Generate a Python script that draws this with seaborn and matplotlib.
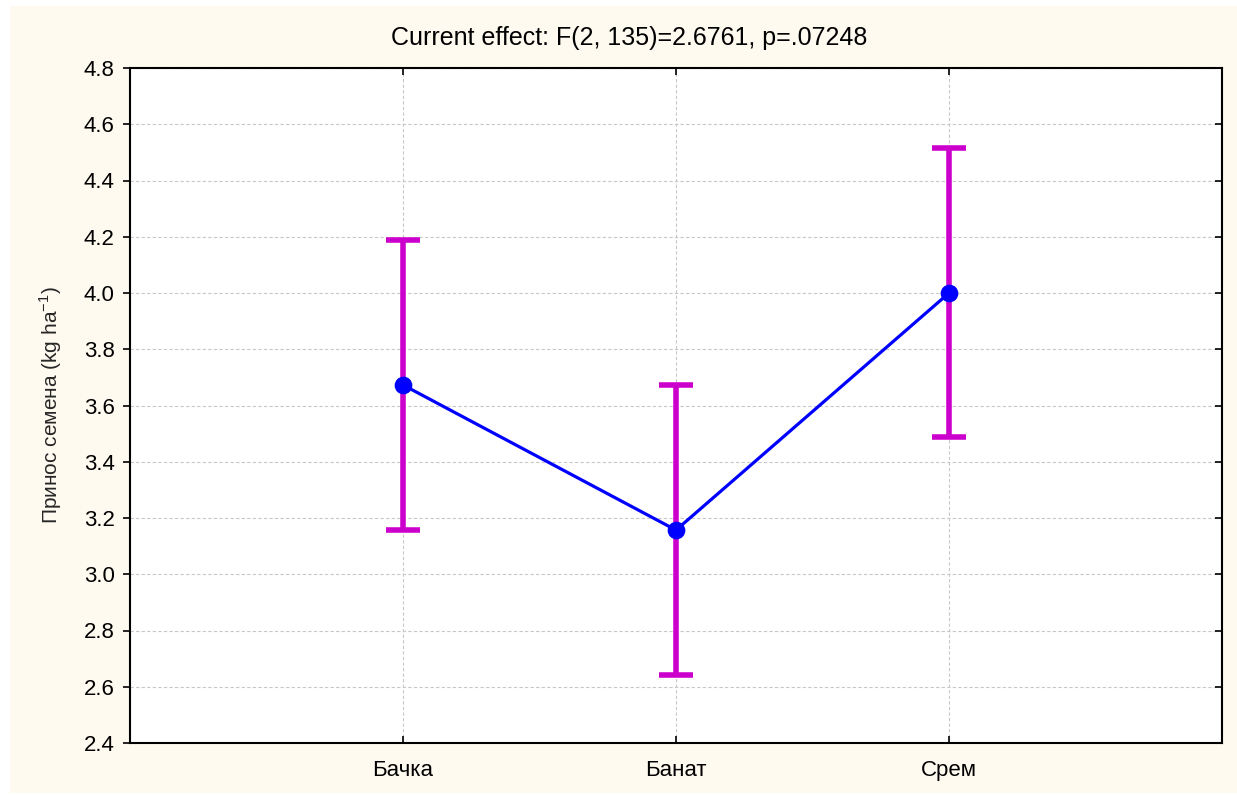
import matplotlib
matplotlib.use("Agg")
import matplotlib.pyplot as plt
import seaborn as sns
import pandas as pd
import numpy as np
from matplotlib.patches import Rectangle

regions = ["Бачка", "Банат", "Срем"]
means = [3.673, 3.157, 4.000]
lower = [3.157, 2.642, 3.488]
upper = [4.188, 3.673, 4.516]
y_ticks = [2.4, 2.6, 2.8, 3.0, 3.2, 3.4, 3.6, 3.8, 4.0, 4.2, 4.4, 4.6, 4.8]
title = "Current effect: F(2, 135)=2.6761, p=.07248"
ylabel = "Принос семена (kg ha$^{-1}$)"

sns.set_theme(style="white")
plt.rcParams['font.family'] = ['Liberation Sans', 'DejaVu Sans']
plt.rcParams['mathtext.fontset'] = 'custom'
plt.rcParams['mathtext.rm'] = 'Liberation Sans'

fig = plt.figure(figsize=(12.37, 7.95), dpi=100)
fig.patch.set_facecolor("white")
bg = Rectangle((10/1237, 2/795), 1 - 10/1237, 787/795,
               transform=fig.transFigure, facecolor="#FFFAF0",
               edgecolor="none", zorder=-10)
fig.add_artist(bg)
ax = fig.add_axes([130/1237, 1 - 743/795, (1222 - 130)/1237, (743 - 68)/795])
ax.set_zorder(1)
ax.set_facecolor("white")

df = pd.DataFrame({"region": regions, "mean": means})
sns.pointplot(data=df, x="region", y="mean", color="blue", markers="o",
              linestyles="-", linewidth=2.3, markersize=11, ax=ax, zorder=4,
              errorbar=None)

xpos = np.arange(len(regions))
err = [np.array(means) - np.array(lower), np.array(upper) - np.array(means)]
ax.errorbar(xpos, means, yerr=err, fmt="none", ecolor="#CC00CC",
            elinewidth=4, capsize=12, capthick=4, zorder=3)

ax.set_xlim(-1, 3)
ax.set_ylim(2.4, 4.8)
ax.set_yticks(y_ticks)
ax.set_yticklabels([f"{v:.1f}" for v in y_ticks], fontsize=16)
ax.set_xticks(xpos)
ax.set_xticklabels(regions, fontsize=16)
ax.set_xlabel("")
ax.set_ylabel(ylabel, fontsize=15, labelpad=14)
fig.text(629/1237, 1 - 38/795, title, fontsize=18, ha="center", va="center",
         color="black")

ax.grid(True, axis="both", color="#c8c8c8", linestyle=(0, (3, 2)), linewidth=0.8)
for s in ax.spines.values():
    s.set_color("black")
    s.set_linewidth(1.5)
    s.set_visible(True)

ax.tick_params(axis="y", which="both", direction="out", length=5, width=1.2,
               left=True, right=True, color="black", labelcolor="black", pad=6)
ax.tick_params(axis="x", which="both", direction="in", length=5, width=1.2,
               bottom=True, top=True, color="black", labelcolor="black", pad=12)
for t in ax.yaxis.get_ticklines()[1::2]:
    t.set_marker(0)  # right-side ticks pointing inward

fig.savefig("out.png", dpi=100, facecolor=fig.get_facecolor())
